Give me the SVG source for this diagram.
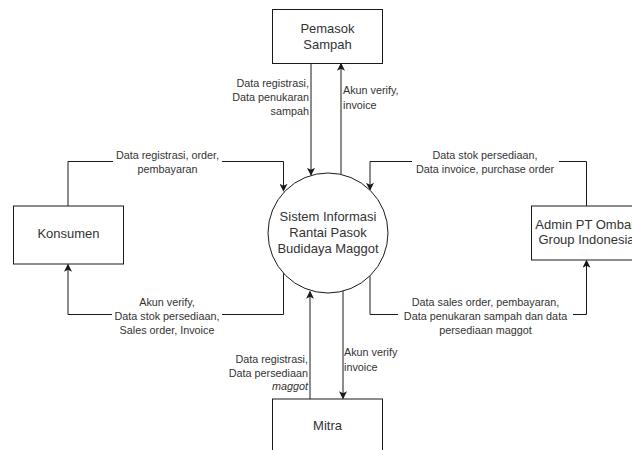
<svg xmlns="http://www.w3.org/2000/svg" width="632" height="450" viewBox="0 0 632 450">
  <style>
    .box { fill: #ffffff; stroke: #1a1a1a; stroke-width: 1; }
    .proc { fill: #ffffff; stroke: #1a1a1a; stroke-width: 1; }
    .edge { fill: none; stroke: #1a1a1a; stroke-width: 1; }
    .name { font-family: "Liberation Sans", Arial, sans-serif; font-size: 13px; fill: #333333; text-anchor: middle; }
    .lbl { font-family: "Liberation Sans", Arial, sans-serif; font-size: 10.8px; fill: #333333; }
    .mid { text-anchor: middle; }
    .end { text-anchor: end; }
    .bg { fill: #ffffff; }
  </style>
  <defs>
    <marker id="arrow" viewBox="0 0 10 10" refX="9" refY="5" markerWidth="8" markerHeight="8" markerUnits="userSpaceOnUse" orient="auto">
      <path d="M0,0 L10,5 L0,10 L2.5,5 z" fill="#1a1a1a"/>
    </marker>
  </defs>

  <rect width="632" height="450" fill="#ffffff"/>

  <!-- data flows -->
  <g id="connectors">
    <path class="edge" d="M68,206 V161.5 H283.5 V191" marker-end="url(#arrow)"/>
    <path class="edge" d="M283.5,272 V314.5 H68 V264.5" marker-end="url(#arrow)"/>
    <path class="edge" d="M311,63 V175" marker-end="url(#arrow)"/>
    <path class="edge" d="M341,174 V63.5" marker-end="url(#arrow)"/>
    <path class="edge" d="M586.5,206 V161.5 H370 V190" marker-end="url(#arrow)"/>
    <path class="edge" d="M370,275 V314.5 H586.5 V260.5" marker-end="url(#arrow)"/>
    <path class="edge" d="M310,399 V291.5" marker-end="url(#arrow)"/>
    <path class="edge" d="M343,291 V398.5" marker-end="url(#arrow)"/>
  </g>

  <!-- flow labels -->
  <g id="labels">
    <rect class="bg" x="113" y="150" width="109" height="26"/>
    <text class="lbl mid" x="167.5" y="159">Data registrasi, order,</text>
    <text class="lbl mid" x="167.5" y="173">pembayaran</text>

    <rect class="bg" x="112" y="296" width="110" height="40"/>
    <text class="lbl mid" x="167" y="305.5">Akun verify,</text>
    <text class="lbl mid" x="167" y="319.5">Data stok persediaan,</text>
    <text class="lbl mid" x="167" y="333.5">Sales order, Invoice</text>

    <rect class="bg" x="412" y="150" width="147" height="26"/>
    <text class="lbl mid" x="485" y="159">Data stok persediaan,</text>
    <text class="lbl mid" x="485" y="173">Data invoice, purchase order</text>

    <rect class="bg" x="398" y="296" width="175" height="40"/>
    <text class="lbl mid" x="485.5" y="305.5">Data sales order, pembayaran,</text>
    <text class="lbl mid" x="485.5" y="319.5">Data penukaran sampah dan data</text>
    <text class="lbl mid" x="485.5" y="333.5">persediaan maggot</text>

    <text class="lbl end" x="309" y="86.5">Data registrasi,</text>
    <text class="lbl end" x="309" y="100.8">Data penukaran</text>
    <text class="lbl end" x="309" y="115">sampah</text>

    <text class="lbl" x="343" y="94">Akun verify,</text>
    <text class="lbl" x="343" y="108.5">invoice</text>

    <text class="lbl end" x="308" y="363">Data registrasi,</text>
    <text class="lbl end" x="308" y="377">Data persediaan</text>
    <text class="lbl end" x="308" y="390" font-style="italic">maggot</text>

    <text class="lbl" x="344" y="356">Akun verify</text>
    <text class="lbl" x="344" y="370.5">invoice</text>
  </g>

  <!-- central process -->
  <g id="sistem">
    <circle class="proc" cx="328" cy="233" r="60"/>
    <text class="name" x="328" y="221">Sistem Informasi</text>
    <text class="name" x="328" y="237">Rantai Pasok</text>
    <text class="name" x="328" y="253">Budidaya Maggot</text>
  </g>

  <!-- external entities -->
  <g id="pemasok">
    <rect class="box" x="272.5" y="9.5" width="110" height="54"/>
    <text class="name" x="327.5" y="33">Pemasok</text>
    <text class="name" x="327.5" y="48.5">Sampah</text>
  </g>

  <g id="konsumen">
    <rect class="box" x="13.5" y="206" width="110" height="58"/>
    <text class="name" x="68.5" y="237.5">Konsumen</text>
  </g>

  <g id="admin">
    <rect class="box" x="531.5" y="206" width="110" height="54"/>
    <text class="name" x="586.5" y="228.5">Admin PT Ombak</text>
    <text class="name" x="586.5" y="244">Group Indonesia</text>
  </g>

  <g id="mitra">
    <rect class="box" x="272.5" y="399" width="110" height="56"/>
    <text class="name" x="327.5" y="429.5">Mitra</text>
  </g>
</svg>
